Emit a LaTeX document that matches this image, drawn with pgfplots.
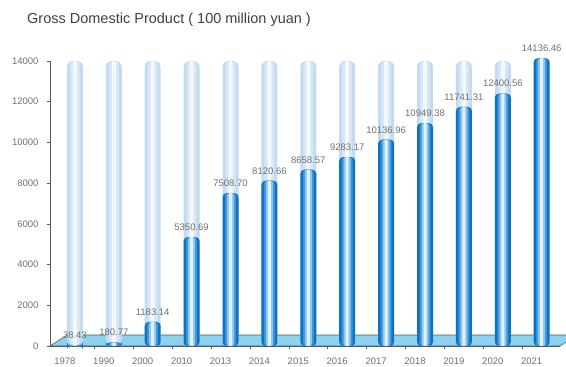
\documentclass[border=0pt]{standalone}
\usepackage{pgfplots}
\pgfplotsset{compat=1.18}
\usepackage{fontspec}
\setmainfont{Liberation Sans}
\definecolor{txt}{HTML}{707070}
\definecolor{b1}{HTML}{0E72C2}
\definecolor{b2}{HTML}{3D95D8}
\definecolor{b3}{HTML}{8DC6EE}
\definecolor{b4}{HTML}{E2F2FC}
\definecolor{g1}{HTML}{C4DAF0}
\definecolor{g2}{HTML}{D8E7F6}
\definecolor{g3}{HTML}{F4F9FE}
\definecolor{floorblue}{HTML}{8AD3F3}
\pgfplotstableread{
x y
0 38.43
1 180.77
2 1183.14
3 5350.69
4 7508.70
5 8120.66
6 8658.57
7 9283.17
8 10136.96
9 10949.38
10 11741.31
11 12400.56
12 14136.46
}\gdp
\pgfplotstableread{
x y
0 14000
1 14000
2 14000
3 14000
4 14000
5 14000
6 14000
7 14000
8 14000
9 14000
10 14000
11 14000
12 14000
}\bg
\begin{document}
\begin{tikzpicture}
\begin{axis}[
  scale only axis, width=510pt, height=285pt,
  xmin=-0.64, xmax=12.47, ymin=0, ymax=14000,
  axis y line*=left, axis x line*=bottom,
  axis line style={draw=black!65, line width=0.7pt, -},
  ytick={0,2000,...,14000},
  scaled y ticks=false,
  xtick={0,...,12},
  xticklabels={1978,1990,2000,2010,2013,2014,2015,2016,2017,2018,2019,2020,2021},
  minor xtick={0.5,1.5,...,11.5},
  major x tick style={draw=none},
  minor x tick style={draw=black!65, line width=0.6pt},
  minor tick length=3pt,
  major tick length=3pt,
  tick align=outside,
  tick style={draw=black!65, line width=0.6pt},
  clip=false,
  /pgf/number format/assume math mode=true,
  tick label style={font=\fontsize{9.5}{10}\selectfont, text=txt},
  yticklabel style={/pgf/number format/1000 sep={}, xshift=-5pt},
  xticklabel style={xshift=-10pt, yshift=-5pt},
  barp/.style={ybar, bar shift=0pt, draw=none},
]
\addplot[fill=floorblue, draw=black!65, line width=0.6pt] coordinates {(-0.64,0) (-0.2,540) (12.9,540) (12.47,0)} -- cycle;
\addplot[barp, bar width=16pt, fill=g1, rounded corners=6pt] table {\bg};
\addplot[barp, bar width=10pt, fill=g2, rounded corners=4pt] table {\bg};
\addplot[barp, bar width=4pt, fill=g3, rounded corners=2pt] table {\bg};
\addplot[barp, bar width=16pt, fill=b1, rounded corners=4pt,
  nodes near coords,
  nodes near coords style={font=\fontsize{9.5}{10}\selectfont, text=txt, /pgf/number format/fixed, /pgf/number format/fixed zerofill, /pgf/number format/precision=2, /pgf/number format/1000 sep={}, /pgf/number format/assume math mode=true, yshift=3pt}] table {\gdp};
\addplot[barp, bar width=11pt, fill=b2, rounded corners=3pt] table {\gdp};
\addplot[barp, bar width=7pt, fill=b3, rounded corners=2pt] table {\gdp};
\addplot[barp, bar width=3pt, fill=b4, rounded corners=1pt] table {\gdp};
\end{axis}
\node[anchor=west, inner sep=0pt, font=\fontsize{14.5}{16}\selectfont, text=black!75] at ([xshift=-23pt, yshift=326pt]current axis.south west) {Gross Domestic Product ( 100 million yuan )};
\pgfresetboundingbox
\path[use as bounding box] ([xshift=-50pt,yshift=-21pt]current axis.south west) rectangle ++(566pt,367pt);
\end{tikzpicture}
\end{document}
